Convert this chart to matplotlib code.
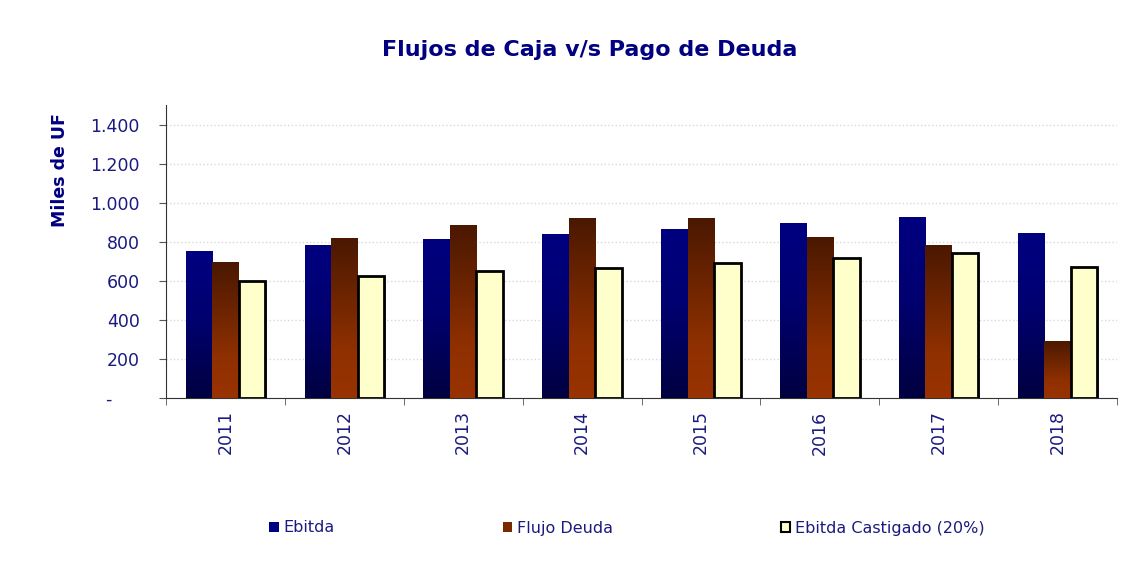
import numpy as np
import matplotlib
matplotlib.use("Agg")
import matplotlib.pyplot as plt
from matplotlib.colors import LinearSegmentedColormap
from matplotlib.patches import Rectangle

years = ["2011", "2012", "2013", "2014", "2015", "2016", "2017", "2018"]
ebitda = [752, 783, 814, 839, 865, 895, 926, 844]
flujo_deuda = [696, 819, 885, 921, 921, 824, 783, 293]
ebitda_castigado = [601, 625, 648, 667, 693, 715, 742, 672]
yticks = [0, 200, 400, 600, 800, 1000, 1200, 1400]
ytick_labels = ["-     ", "200", "400", "600", "800", "1.000", "1.200", "1.400"]

navy = "#000080"
text_col = "#1a1a80"

fig = plt.figure(figsize=(11.48, 5.79), dpi=100)
ax = fig.add_axes([166/1148, 1 - 398/579, (1117-166)/1148, (398-105)/579])

n = len(years)
x = np.arange(n)
w = 0.223

cmap_e = LinearSegmentedColormap.from_list("e", [(0, "#000040"), (0.55, "#000070"), (1, "#000080")])
cmap_f = LinearSegmentedColormap.from_list("f", [(0, "#993300"), (0.3, "#8f3000"), (1, "#4a1800")])
grad = np.linspace(0, 1, 256).reshape(-1, 1)

for i in range(n):
    b = ax.bar(x[i] - w, ebitda[i], width=w, color="none", edgecolor="none", zorder=3)[0]
    im = ax.imshow(grad, cmap=cmap_e, origin="lower", aspect="auto",
                   extent=(x[i] - 1.5*w, x[i] - 0.5*w, 0, ebitda[i]), zorder=3)
    im.set_clip_path(b)
    b = ax.bar(x[i], flujo_deuda[i], width=w, color="none", edgecolor="none", zorder=3)[0]
    im = ax.imshow(grad, cmap=cmap_f, origin="lower", aspect="auto",
                   extent=(x[i] - 0.5*w, x[i] + 0.5*w, 0, flujo_deuda[i]), zorder=3)
    im.set_clip_path(b)

# shadow for castigado bars
ax.bar(x + w + 0.012, ebitda_castigado, width=w, bottom=-8, color="#9a9a9a",
       edgecolor="none", zorder=2.5)
ax.bar(x + w, ebitda_castigado, width=w, color="#ffffcc", edgecolor="black",
       linewidth=2, zorder=4)

ax.set_xlim(-0.5, n - 0.5)
ax.set_ylim(0, 1500)
ax.set_yticks(yticks)
ax.set_yticklabels(ytick_labels, color=text_col, fontsize=12.5)
ax.set_xticks(x)
ax.set_xticklabels(years, rotation=90, color=text_col, fontsize=12.5)
ax.set_xticks(np.arange(-0.5, n, 1), minor=True)
ax.tick_params(axis="x", which="major", length=0, pad=9)
ax.tick_params(axis="x", which="minor", length=5, color="#555555")
ax.tick_params(axis="y", length=5, color="#555555", pad=14)
ax.grid(axis="y", color="#d9d9d9", linestyle=":", linewidth=1, zorder=0)
ax.set_axisbelow(True)
for s in ["top", "right"]:
    ax.spines[s].set_visible(False)
ax.spines["left"].set_color("#333333")
ax.spines["bottom"].set_color("#333333")

ax.set_ylabel("Miles de UF", color=navy, fontsize=12.5, fontweight="bold")
ax.yaxis.set_label_coords((60 - 166) / 951, (398 - 170) / 293)
ax.yaxis.label.set_va("center")

fig.text(590/1148, 1 - 50/579, "Flujos de Caja v/s Pago de Deuda", ha="center", va="center",
         color=navy, fontsize=16, fontweight="bold")

handles = [Rectangle((0, 0), 1, 1, facecolor=navy, edgecolor="none"),
           Rectangle((0, 0), 1, 1, facecolor="#7a2800", edgecolor="none"),
           Rectangle((0, 0), 1, 1, facecolor="#ffffcc", edgecolor="black", linewidth=1.5)]
leg = fig.legend(handles, ["Ebitda", "Flujo Deuda", "Ebitda Castigado (20%)"],
                 loc="center", bbox_to_anchor=(627/1148, 1 - 528/579), ncol=3,
                 frameon=False, fontsize=11.5, handlelength=0.6, handleheight=0.6,
                 handletextpad=0.3, columnspacing=10.5)
for t in leg.get_texts():
    t.set_color(text_col)

fig.savefig("out.png", dpi=100)
